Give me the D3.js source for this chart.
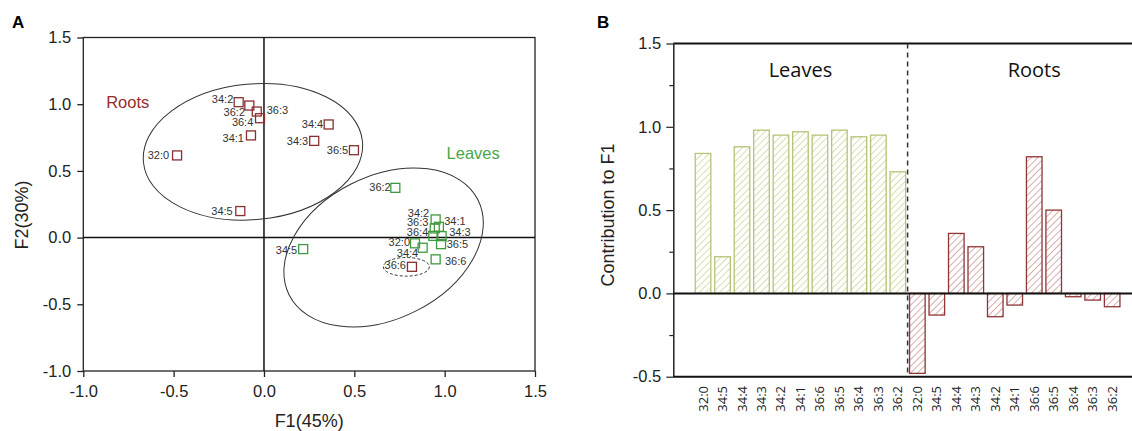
<!DOCTYPE html>
<html>
<head>
<meta charset="utf-8">
<script src="https://cdn.jsdelivr.net/npm/d3@7"></script>
<style>
  body { margin: 0; background: #fff; }
  svg { display: block; font-family: "Liberation Sans", Arial, sans-serif; }
</style>
</head>
<body>
<div id="chart"></div>
<script>
// lipid species, same order in both panels
const species = ["32:0", "34:5", "34:4", "34:3", "34:2", "34:1", "36:6", "36:5", "36:4", "36:3", "36:2"];

// panel A: PCA scores (F1, F2)
const rootsF1  = [-0.481, -0.131, 0.358, 0.278, -0.140, -0.072, 0.819, 0.498, -0.022, -0.040, -0.081];
const rootsF2  = [ 0.616,  0.199, 0.848, 0.725,  1.015,  0.766, -0.219, 0.655, 0.895, 0.945, 0.990];
const leavesF1 = [ 0.836,  0.217, 0.878, 0.983,  0.950,  0.968, 0.950, 0.980, 0.937, 0.945, 0.727];
const leavesF2 = [-0.043, -0.086, -0.076, 0.011, 0.136,  0.081, -0.163, -0.049, 0.013, 0.069, 0.373];

// panel B: contribution to F1
const leavesContrib = [0.84, 0.22, 0.88, 0.98, 0.95, 0.97, 0.95, 0.98, 0.94, 0.95, 0.73];
const rootsContrib  = [-0.48, -0.13, 0.36, 0.28, -0.14, -0.07, 0.82, 0.50, -0.02, -0.04, -0.08];

const tickValsA = [-1, -0.5, 0, 0.5, 1, 1.5];
const tickValsB = [-0.5, 0, 0.5, 1, 1.5];

const cRoot = "#8a2f2f", cLeaf = "#3f9a3f";

const svg = d3.select("#chart").append("svg")
    .attr("width", 1132)
    .attr("height", 431);

// ---------------- Panel A ----------------
const xA = d3.scaleLinear().domain([-1, 1.5]).range([83.3, 535]);
const yA = d3.scaleLinear().domain([-1, 1.5]).range([371, 37.5]);
const fmt = d => d.toFixed(1);

const gA = svg.append("g");

gA.append("g")
    .attr("transform", `translate(0,${yA(-1)})`)
    .call(d3.axisBottom(xA).tickValues(tickValsA).tickFormat(fmt).tickSize(6).tickSizeOuter(0))
    .call(g => g.select(".domain").remove())
    .call(g => g.selectAll("line").attr("stroke", "#222").attr("stroke-width", 1.3))
    .call(g => g.selectAll("text").attr("font-size", 16.5).attr("fill", "#222").attr("dy", "1.05em"));

gA.append("g")
    .attr("transform", `translate(${xA(-1)},0)`)
    .call(d3.axisLeft(yA).tickValues(tickValsA).tickFormat(fmt).tickSize(6).tickSizeOuter(0).tickPadding(6))
    .call(g => g.select(".domain").remove())
    .call(g => g.selectAll("line").attr("stroke", "#222").attr("stroke-width", 1.3))
    .call(g => g.selectAll("text").attr("font-size", 16.5).attr("fill", "#222"));

// frame
gA.append("rect")
    .attr("x", xA(-1)).attr("y", yA(1.5))
    .attr("width", xA(1.5) - xA(-1)).attr("height", yA(-1) - yA(1.5))
    .attr("fill", "none").attr("stroke", "#222").attr("stroke-width", 1.3);

// zero lines
gA.append("line")
    .attr("x1", xA(0)).attr("x2", xA(0)).attr("y1", yA(1.5)).attr("y2", yA(-1))
    .attr("stroke", "#111").attr("stroke-width", 1.5);
gA.append("line")
    .attr("x1", xA(-1)).attr("x2", xA(1.5)).attr("y1", yA(0)).attr("y2", yA(0))
    .attr("stroke", "#111").attr("stroke-width", 1.5);

// group ellipses (center in data units, radii in px, tilt in degrees)
const ellipses = [
    {cx: -0.061, cy: 0.643, rx: 110, ry: 67.8, rot: -5.4, dash: null},
    {cx: 0.662, cy: -0.074, rx: 105.7, ry: 71.3, rot: -26.7, dash: null},
    {cx: 0.788, cy: -0.219, rx: 23, ry: 9.3, rot: 0, dash: "3,2"}
];
gA.selectAll(".grp").data(ellipses).join("ellipse")
    .attr("class", "grp")
    .attr("transform", d => `translate(${xA(d.cx)},${yA(d.cy)}) rotate(${d.rot})`)
    .attr("rx", d => d.rx).attr("ry", d => d.ry)
    .attr("fill", "none").attr("stroke", "#333").attr("stroke-width", 1)
    .attr("stroke-dasharray", d => d.dash);

// label placement beside each square: [dx, dy, anchor]
const rootLab = {
    "32:0": [-8, 0, "end"], "34:5": [-7.6, 0, "end"], "34:4": [-5.4, 0, "end"],
    "34:3": [-6, 0, "end"], "34:2": [-5.4, -3, "end"], "34:1": [-7, 2.4, "end"],
    "36:6": [-6, -1.7, "end"], "36:5": [-5.7, 0, "end"], "36:4": [-6.7, 4, "end"],
    "36:3": [10, -1.6, "start"], "36:2": [-4.3, 7, "end"]
};
const leafLab = {
    "32:0": [-5, -1.6, "end"], "34:5": [-6, 1, "end"], "34:4": [-4.4, 5.6, "end"],
    "34:3": [7.6, -4.3, "start"], "34:2": [-6.4, -6, "end"], "34:1": [5.3, -5.7, "start"],
    "36:6": [9.3, 1.4, "start"], "36:5": [5.7, 0, "start"], "36:4": [-5, -4, "end"],
    "36:3": [-6.4, -6, "end"], "36:2": [-4.6, -1, "end"]
};

const rootPts = species.map((s, i) => ({name: s, x: rootsF1[i], y: rootsF2[i], lab: rootLab[s]}));
const leafPts = species.map((s, i) => ({name: s, x: leavesF1[i], y: leavesF2[i], lab: leafLab[s]}));

function drawPoints(pts, color) {
    const g = gA.append("g");
    g.selectAll("text").data(pts).join("text")
        .attr("x", d => xA(d.x) + d.lab[0])
        .attr("y", d => yA(d.y) + d.lab[1])
        .attr("dy", "0.35em")
        .attr("text-anchor", d => d.lab[2])
        .attr("font-size", 11)
        .attr("fill", "#333")
        .text(d => d.name);
    g.selectAll("rect").data(pts).join("rect")
        .attr("x", d => xA(d.x) - 4.5)
        .attr("y", d => yA(d.y) - 4.5)
        .attr("width", 9).attr("height", 9)
        .attr("fill", "none")
        .attr("stroke", color).attr("stroke-width", 1.3);
}
drawPoints(rootPts, cRoot);
drawPoints(leafPts, cLeaf);

gA.append("text").attr("x", xA(-0.754)).attr("y", yA(1.013)).attr("dy", "0.35em")
    .attr("text-anchor", "middle").attr("font-size", 16.5).attr("fill", "#9a2b2b").text("Roots");
gA.append("text").attr("x", xA(1.158)).attr("y", yA(0.63)).attr("dy", "0.35em")
    .attr("text-anchor", "middle").attr("font-size", 16.5).attr("fill", "#4aa54a").text("Leaves");

gA.append("text").attr("x", (xA(-1) + xA(1.5)) / 2).attr("y", 427)
    .attr("text-anchor", "middle").attr("font-size", 18).attr("fill", "#222").text("F1(45%)");
gA.append("text").attr("transform", "translate(28,215) rotate(-90)")
    .attr("text-anchor", "middle").attr("font-size", 18).attr("fill", "#222").text("F2(30%)");

svg.append("text").attr("x", 12).attr("y", 28).attr("font-size", 17).attr("font-weight", "bold").text("A");

// ---------------- Panel B ----------------
const cats = species.map(s => "L" + s).concat(species.map(s => "R" + s));
const barData = species.map((s, i) => ({key: "L" + s, name: s, v: leavesContrib[i], grp: "L"}))
    .concat(species.map((s, i) => ({key: "R" + s, name: s, v: rootsContrib[i], grp: "R"})));

const xB = d3.scaleBand().domain(cats).range([693.3, 1121.9]).paddingInner(0.2).paddingOuter(0.1);
const yB = d3.scaleLinear().domain([-0.5, 1.5]).range([376.7, 43.5]);
const leftB = 673.3, rightB = 1132;

const defs = svg.append("defs");
function hatch(id, color) {
    const p = defs.append("pattern")
        .attr("id", id)
        .attr("patternUnits", "userSpaceOnUse")
        .attr("width", 4.8).attr("height", 4.8)
        .attr("patternTransform", "rotate(45)");
    p.append("line").attr("x1", 0).attr("y1", 0).attr("x2", 0).attr("y2", 4.8)
        .attr("stroke", color).attr("stroke-width", 1.3);
}
hatch("hatchL", "#c3cd8a");
hatch("hatchR", "#c48282");

const gB = svg.append("g");

gB.selectAll("rect").data(barData).join("rect")
    .attr("x", d => xB(d.key))
    .attr("width", xB.bandwidth())
    .attr("y", d => yB(Math.max(0, d.v)))
    .attr("height", d => Math.abs(yB(d.v) - yB(0)))
    .attr("fill", d => d.grp === "L" ? "url(#hatchL)" : "url(#hatchR)")
    .attr("stroke", d => d.grp === "L" ? "#b8c278" : "#8e3535")
    .attr("stroke-width", 1.3);

// y axis with minor ticks
gB.append("g")
    .attr("transform", `translate(${leftB},0)`)
    .call(d3.axisLeft(yB).tickValues([-0.25, 0.25, 0.75, 1.25]).tickSize(4).tickFormat(""))
    .call(g => g.select(".domain").remove())
    .call(g => g.selectAll("line").attr("stroke", "#222").attr("stroke-width", 1.2));
gB.append("g")
    .attr("transform", `translate(${leftB},0)`)
    .call(d3.axisLeft(yB).tickValues(tickValsB).tickFormat(fmt).tickSize(7).tickSizeOuter(0).tickPadding(5))
    .call(g => g.select(".domain").attr("stroke", "#222").attr("stroke-width", 1.5))
    .call(g => g.selectAll(".tick line").attr("stroke", "#222").attr("stroke-width", 1.2))
    .call(g => g.selectAll("text").attr("font-size", 16.5).attr("fill", "#222"));

// horizontal lines at top, zero and bottom
[1.5, 0, -0.5].forEach(v => {
    gB.append("line")
        .attr("x1", leftB).attr("x2", rightB).attr("y1", yB(v)).attr("y2", yB(v))
        .attr("stroke", "#111").attr("stroke-width", 2);
});

// divider between leaves and roots
const divX = (xB("L36:2") + xB.bandwidth() + xB("R32:0")) / 2;
gB.append("line")
    .attr("x1", divX).attr("x2", divX).attr("y1", yB(1.5)).attr("y2", yB(-0.5))
    .attr("stroke", "#333").attr("stroke-width", 1.5).attr("stroke-dasharray", "5,4");

// category labels
gB.selectAll(".xl").data(barData).join("text")
    .attr("class", "xl")
    .attr("transform", d => `translate(${xB(d.key) + xB.bandwidth() / 2 + 4.5},386) rotate(-90)`)
    .attr("text-anchor", "end")
    .attr("font-family", "'Open Sans', sans-serif")
    .attr("font-size", 13)
    .attr("fill", "#222")
    .text(d => d.name);

gB.append("text")
    .attr("x", xB("L34:1") + xB.bandwidth() / 2).attr("y", 77)
    .attr("text-anchor", "middle").attr("font-family", "'Open Sans', sans-serif")
    .attr("font-size", 20).attr("fill", "#111").text("Leaves");
gB.append("text")
    .attr("x", xB("R36:6") + xB.bandwidth() / 2).attr("y", 77)
    .attr("text-anchor", "middle").attr("font-family", "'Open Sans', sans-serif")
    .attr("font-size", 20).attr("fill", "#111").text("Roots");

gB.append("text").attr("transform", "translate(614,215) rotate(-90)")
    .attr("text-anchor", "middle").attr("font-size", 18).attr("fill", "#222").text("Contribution to F1");

svg.append("text").attr("x", 597).attr("y", 28).attr("font-size", 17).attr("font-weight", "bold").text("B");
</script>
</body>
</html>
